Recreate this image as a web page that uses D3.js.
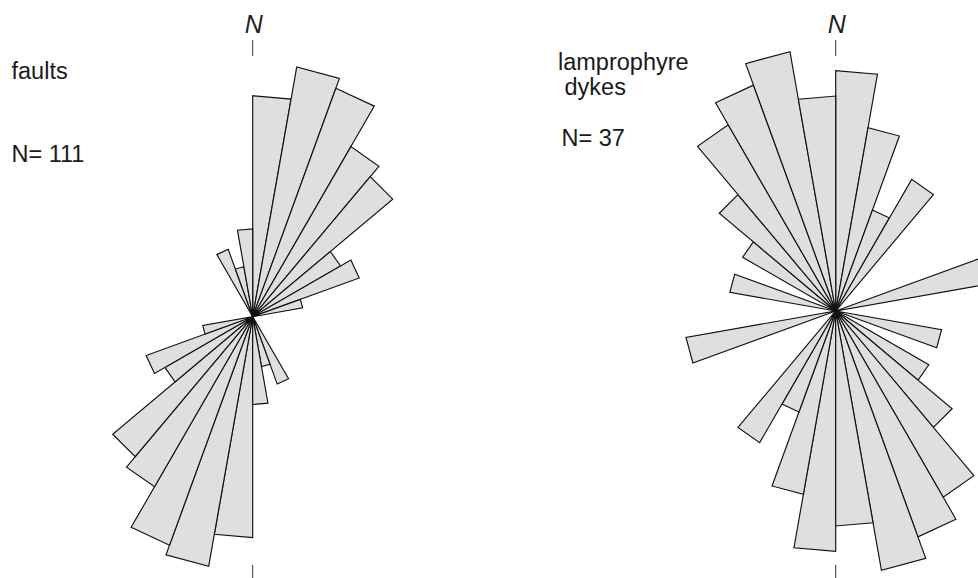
<!DOCTYPE html>
<html><head><meta charset="utf-8">
<script src="https://cdn.jsdelivr.net/npm/d3@7"></script>
<style>html,body{margin:0;padding:0;background:#fff}svg{display:block}</style>
</head><body>
<svg id="chart" width="978" height="578"></svg>
<script>
// ---- data (axial data, 10° bins over 0–180°, mirrored to 180–360°) ----
const binStarts = [0,10,20,30,40,50,60,70,80,90,100,110,120,130,140,150,160,170];
const binWidth = 10;
const faultCounts = [19,25,23,15,13,4,5,1,0,0,0,0,0,0,0,2,1,3];
const dykeCounts  = [5,3,1,2,0,0,0,2,0,0,1,0,1,2,4,5,6,4];
const faultTitle = ["faults"];
const dykeTitle  = ["lamprophyre", " dykes"];
const faultNText = "N= 111";
const dykeNText  = "N= 37";
const northText  = "N";

// ---- layout ----
const svg = d3.select("#chart");
const FILL = "#dfdfdf", STROKE = "#111";
const FONT = "'Liberation Sans', Arial, Helvetica, sans-serif";

const roses = [
  {counts: faultCounts, cx: 252.7, cy: 316.7, maxR: 253.5, title: faultTitle, nText: faultNText,
   titleX: 11.5, titleY: [79], nX: 11.5, nY: 161.5},
  {counts: dykeCounts, cx: 835.7, cy: 311, maxR: 263.3, title: dykeTitle, nText: dykeNText,
   titleX: 558, titleY: [69.5, 95], nX: 561.5, nY: 146}
];

const angle = d3.scaleLinear().domain([0, 360]).range([0, 2 * Math.PI]);

roses.forEach(rs => {
  const r = d3.scaleSqrt().domain([0, d3.max(rs.counts)]).range([0, rs.maxR]);
  const petals = [];
  binStarts.forEach((b, i) => {
    if (rs.counts[i] > 0) {
      petals.push({a0: b, a1: b + binWidth, c: rs.counts[i]});
      petals.push({a0: b + 180, a1: b + 180 + binWidth, c: rs.counts[i]});
    }
  });
  const g = svg.append("g").attr("transform", `translate(${rs.cx},${rs.cy})`);
  g.selectAll("path.petal").data(petals).join("path")
    .attr("class", "petal")
    .attr("d", d => {
      const p0 = d3.pointRadial(angle(d.a0), r(d.c));
      const p1 = d3.pointRadial(angle(d.a1), r(d.c));
      return `M0,0L${p0[0]},${p0[1]}L${p1[0]},${p1[1]}Z`;
    })
    .attr("fill", FILL)
    .attr("stroke", STROKE)
    .attr("stroke-width", 1.15)
    .attr("stroke-linejoin", "miter")
    .attr("stroke-miterlimit", 12);

  // north / south ticks
  svg.append("line").attr("x1", rs.cx).attr("x2", rs.cx).attr("y1", 40).attr("y2", 56)
    .attr("stroke", "#333").attr("stroke-width", 1);
  svg.append("line").attr("x1", rs.cx).attr("x2", rs.cx).attr("y1", 565).attr("y2", 582)
    .attr("stroke", "#333").attr("stroke-width", 1);
  svg.append("text").attr("x", rs.cx + 1).attr("y", 33)
    .attr("text-anchor", "middle").attr("font-family", FONT).attr("font-style", "italic")
    .attr("font-size", 25).attr("fill", "#222").text(northText);

  rs.title.forEach((t, i) => {
    svg.append("text").attr("x", rs.titleX).attr("y", rs.titleY[i])
      .attr("font-family", FONT).attr("font-size", 23.5).attr("fill", "#1a1a1a")
      .attr("xml:space", "preserve").style("white-space", "pre").text(t);
  });
  svg.append("text").attr("x", rs.nX).attr("y", rs.nY)
    .attr("font-family", FONT).attr("font-size", 23.5).attr("fill", "#1a1a1a").text(rs.nText);
});
</script>
</body></html>
